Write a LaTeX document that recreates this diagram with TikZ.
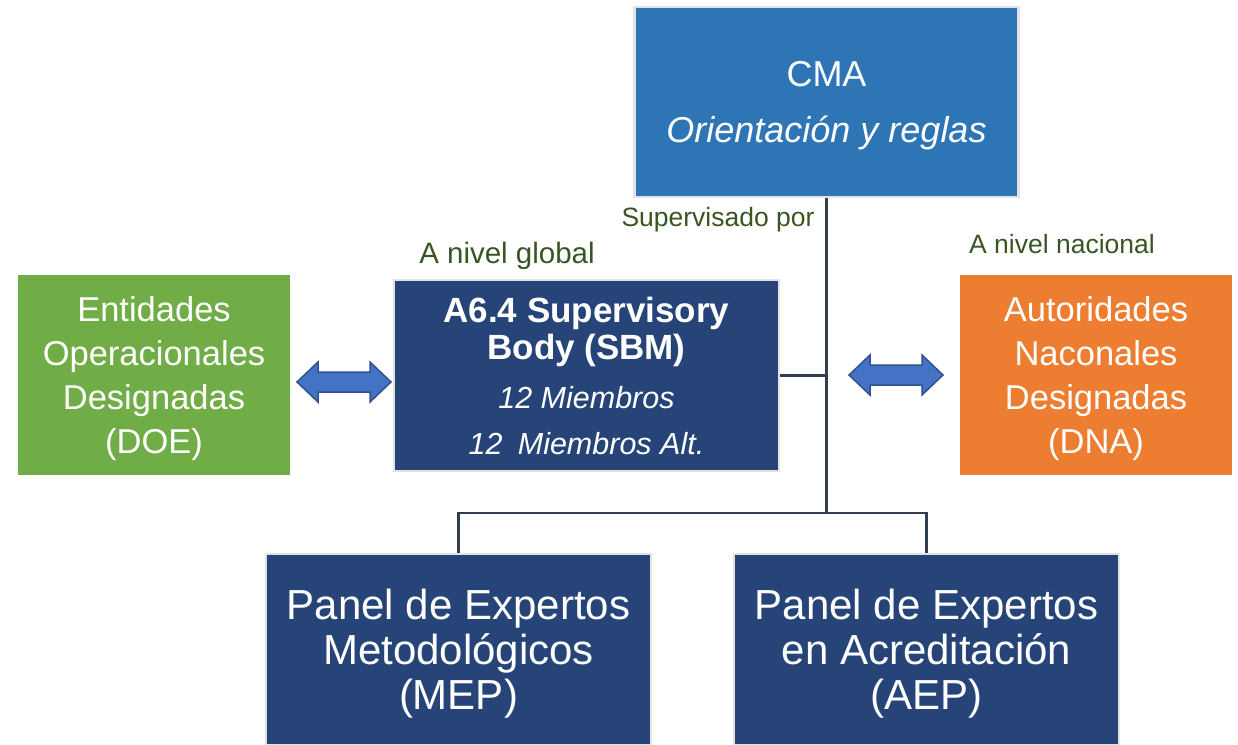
\documentclass[tikz,border=0pt]{standalone}
\usepackage{fontspec}
\setmainfont{Liberation Sans}

\definecolor{cmaBlue}{HTML}{2E75B6}
\definecolor{navy}{HTML}{264478}
\definecolor{leafGreen}{HTML}{70AD47}
\definecolor{amber}{HTML}{ED7D31}
\definecolor{arrowBlue}{HTML}{4472C4}
\definecolor{arrowEdge}{HTML}{2F528F}
\definecolor{tagGreen}{HTML}{375623}
\definecolor{lineSlate}{HTML}{323E4F}
\definecolor{rimGray}{HTML}{E3E3E3}

% double block arrow between two x positions at height y
\newcommand{\biarrow}[3]{%
  \draw[arrowbody] (#1,#3) -- ({#1+21},{#3-20}) -- ({#1+21},{#3-10})
    -- ({#2-21},{#3-10}) -- ({#2-21},{#3-20}) -- (#2,#3)
    -- ({#2-21},{#3+20}) -- ({#2-21},{#3+10}) -- ({#1+21},{#3+10})
    -- ({#1+21},{#3+20}) -- cycle;}

\begin{document}
\begin{tikzpicture}[x=1pt, y=-1pt,
    box/.style={rectangle, inner sep=0pt, align=center, text=white, text depth=0pt},
    rimbox/.style={box, draw=rimGray, line width=2.5pt},
    tag/.style={text=tagGreen, inner sep=0pt, font=\fontsize{26.5}{30}\selectfont},
    link/.style={draw=lineSlate, line width=2.5pt},
    arrowbody/.style={fill=arrowBlue, draw=arrowEdge, line width=1.5pt, line join=miter}]
    \useasboundingbox (0,0) rectangle (1238,744);
    \clip (0,0) rectangle (1238,744);

    % boxes
    \node[rimbox, fill=cmaBlue, minimum width=384, minimum height=190,
          font=\fontsize{36}{56}\selectfont] (CMA) at (826.5,102)
          {CMA\\\textit{Orientación y reglas}};
    \node[rimbox, fill=navy, minimum width=385, minimum height=191,
          font=\fontsize{35}{37}\selectfont] (SBM) at (586.5,375.5)
          {\textbf{A6.4 Supervisory}\\\textbf{Body (SBM)}\\[12pt]
           {\fontsize{30.5}{37}\selectfont\itshape 12 Miembros}\\[9pt]
           {\fontsize{30.5}{37}\selectfont\itshape 12\enspace Miembros Alt.}};
    \node[box, fill=leafGreen, minimum width=272, minimum height=200,
          font=\fontsize{34.5}{44}\selectfont] (DOE) at (154,375)
          {Entidades\\Operacionales\\Designadas\\(DOE)};
    \node[box, fill=amber, minimum width=272, minimum height=200,
          font=\fontsize{34.5}{44}\selectfont] (DNA) at (1096,375)
          {Autoridades\\Naconales\\Designadas\\(DNA)};
    \node[rimbox, fill=navy, minimum width=385, minimum height=191,
          font=\fontsize{42}{45}\selectfont] (MEP) at (458.5,649.5)
          {Panel de Expertos\\Metodológicos\\(MEP)};
    \node[rimbox, fill=navy, minimum width=385, minimum height=191,
          font=\fontsize{42}{45}\selectfont] (AEP) at (926.5,649.5)
          {Panel de Expertos\\en Acreditación\\(AEP)};

    % labels
    \node[tag] (supLbl) at (718,220) {Supervisado por};
    \node[tag, font=\fontsize{29.5}{32}\selectfont] (globLbl) at (507,256) {A nivel global};
    \node[tag] (nacLbl) at (1062,244) {A nivel nacional};

    % connectors
    \coordinate (bus) at (0,513);
    \draw[link] (CMA.south) -- (CMA.south |- bus);
    \draw[link] (SBM.east) -- (SBM.east -| CMA.south);
    \draw[link] (MEP.north) |- (CMA.south |- bus) -| (AEP.north);

    % block arrows
    \biarrow{297}{391}{382}
    \biarrow{849}{943}{375}
\end{tikzpicture}
\end{document}
